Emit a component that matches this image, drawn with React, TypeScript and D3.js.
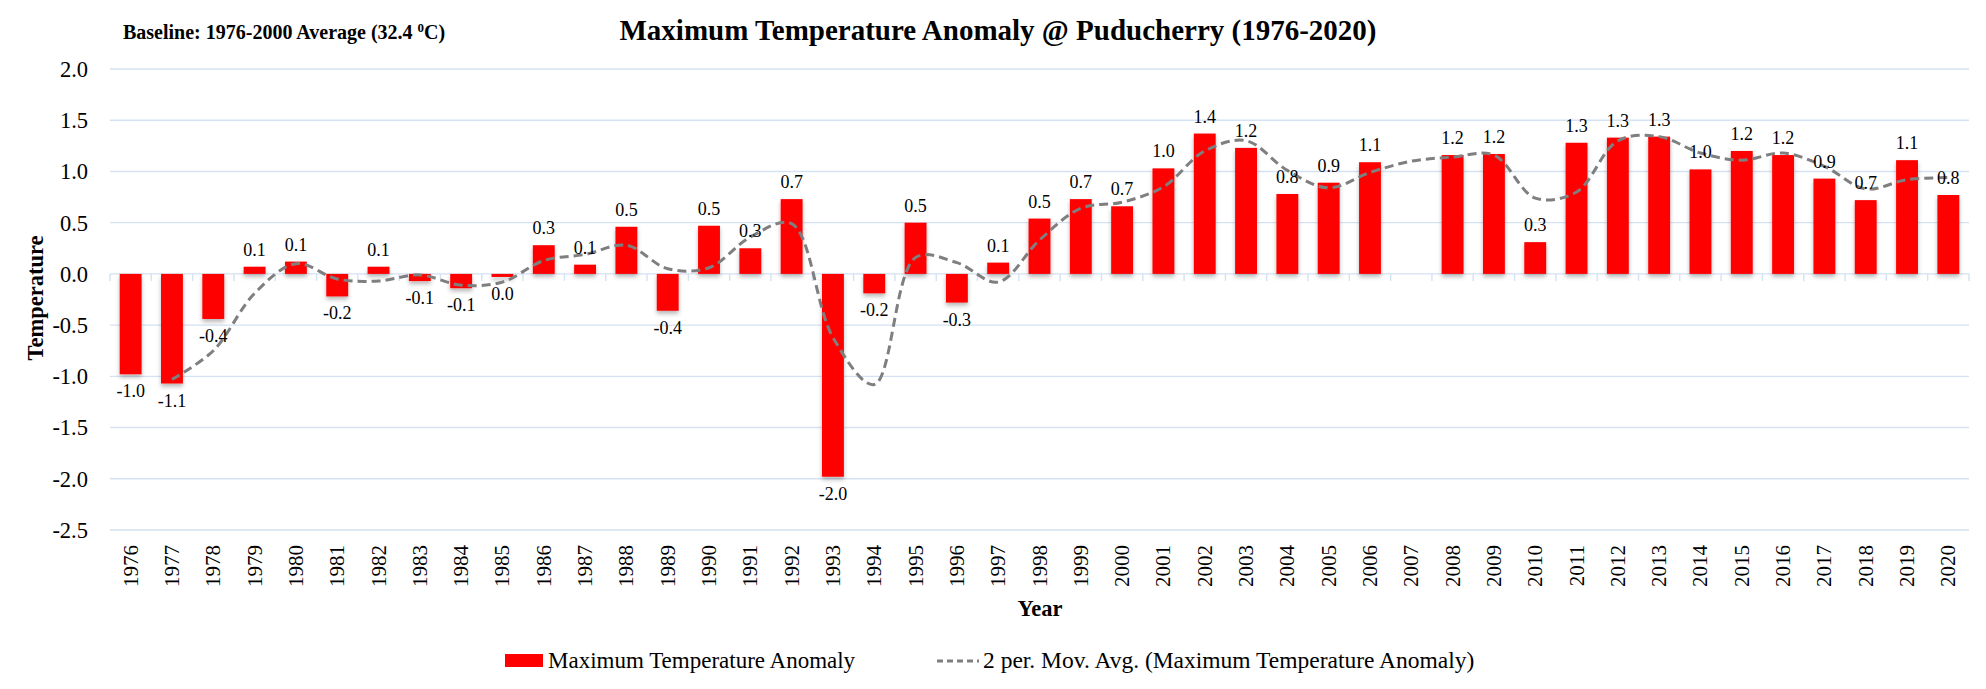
import * as d3 from 'd3'

const years: number[] = d3.range(1976, 2021)

// anomaly per year (2007 has no value)
const anomaly: (number | null)[] = [
  -0.98, -1.07, -0.44, 0.07, 0.12, -0.22, 0.07, -0.07, -0.14, -0.03,
  0.28, 0.09, 0.46, -0.36, 0.47, 0.25, 0.73, -1.98, -0.19, 0.5,
  -0.28, 0.11, 0.54, 0.73, 0.66, 1.03, 1.37, 1.23, 0.78, 0.89,
  1.09, null, 1.16, 1.17, 0.31, 1.28, 1.33, 1.34, 1.02, 1.2,
  1.16, 0.93, 0.72, 1.11, 0.77,
]

// 2 per. moving average (starts 1977)
const movAvg: (number | null)[] = [
  null, -1.03, -0.75, -0.19, 0.1, -0.05, -0.07, -0.01, -0.11, -0.08,
  0.13, 0.19, 0.28, 0.05, 0.06, 0.36, 0.49, -0.62, -1.08, 0.16,
  0.11, -0.08, 0.33, 0.64, 0.7, 0.85, 1.2, 1.3, 1.01, 0.84,
  0.99, 1.1, 1.14, 1.16, 0.74, 0.8, 1.3, 1.34, 1.18, 1.11,
  1.18, 1.05, 0.83, 0.92, 0.94,
]

const yTicks: number[] = [-2.5, -2.0, -1.5, -1.0, -0.5, 0, 0.5, 1.0, 1.5, 2.0]

const W = 1986
const H = 689
const FONT = '"Liberation Serif", "Times New Roman", serif'
const GRID = '#d5e2f3'

const fmt = (v: number) => (Math.abs(v) < 0.05 ? '0.0' : v.toFixed(1))

export default function App() {
  const x = d3.scaleBand<number>().domain(years).range([110, 1969]).padding(0)
  const y = d3.scaleLinear().domain([-2.5, 2.0]).range([530, 69])
  const bw = x.bandwidth() * 0.53
  const cx = (yr: number) => (x(yr) ?? 0) + x.bandwidth() / 2

  const maPts = years
    .map((yr, i) => ({ yr, v: movAvg[i] }))
    .filter(d => d.v !== null) as { yr: number; v: number }[]
  const line = d3.line<{ yr: number; v: number }>()
    .x(d => cx(d.yr))
    .y(d => y(d.v))
    .curve(d3.curveCatmullRom.alpha(0.5))

  return (
    <svg width={W} height={H} style={{ position: 'absolute', left: 0, top: 0, background: '#fff' }}
      fontFamily={FONT}>
      <defs>
        <filter id="shadow" x="-30%" y="-10%" width="160%" height="130%">
          <feDropShadow dx="0" dy="3" stdDeviation="2" floodColor="#000" floodOpacity="0.28" />
        </filter>
      </defs>

      <text x={123} y={39} fontSize={20} fontWeight="bold">
        Baseline: 1976-2000 Average (32.4 <tspan fontSize={13} dy={-7}>0</tspan><tspan dy={7}>C)</tspan>
      </text>
      <text x={998} y={40} fontSize={29} fontWeight="bold" textAnchor="middle">
        Maximum Temperature Anomaly @ Puducherry (1976-2020)
      </text>

      {/* grid */}
      {yTicks.map(t => (
        <g key={t}>
          <line x1={110} x2={1969} y1={y(t)} y2={y(t)} stroke={GRID} strokeWidth={1.4} />
          <text x={88} y={y(t)} dy="0.35em" fontSize={22.5} textAnchor="end">{t.toFixed(1)}</text>
        </g>
      ))}

      {/* category ticks on zero line */}
      {[...years.map(yr => x(yr) ?? 0), 1969].map((tx, i) => (
        <line key={i} x1={tx} x2={tx} y1={y(0)} y2={y(0) + 7} stroke={GRID} strokeWidth={1.4} />
      ))}

      {/* bars */}
      <g filter="url(#shadow)">
        {years.map((yr, i) => {
          const v = anomaly[i]
          if (v === null) return null
          return (
            <rect key={yr} x={cx(yr) - bw / 2} width={bw}
              y={Math.min(y(v), y(0))} height={Math.abs(y(v) - y(0))} fill="#ff0000" />
          )
        })}
      </g>

      {/* moving average */}
      <path d={line(maPts) ?? ''} fill="none" stroke="#7f7f7f" strokeWidth={3}
        strokeDasharray="9,5" />

      {/* data labels */}
      {years.map((yr, i) => {
        const v = anomaly[i]
        if (v === null) return null
        const ly = v >= 0 ? y(v) - 11 : y(v) + 23
        return (
          <text key={yr} x={cx(yr)} y={ly} fontSize={18} textAnchor="middle">{fmt(v)}</text>
        )
      })}

      {/* year labels */}
      {years.map(yr => (
        <text key={yr} transform={`translate(${cx(yr) + 7},545) rotate(-90)`} fontSize={21}
          textAnchor="end">{yr}</text>
      ))}

      <text transform="translate(43,298) rotate(-90)" fontSize={22.5} fontWeight="bold"
        textAnchor="middle">Temperature</text>
      <text x={1040} y={616} fontSize={22.5} fontWeight="bold" textAnchor="middle">Year</text>

      {/* legend */}
      <rect x={505} y={654} width={38} height={13} fill="#ff0000" />
      <text x={548} y={668} fontSize={23}>Maximum Temperature Anomaly</text>
      <line x1={937} x2={979} y1={661} y2={661} stroke="#7f7f7f" strokeWidth={3} strokeDasharray="6,4" />
      <text x={983} y={668} fontSize={23.5}>2 per. Mov. Avg. (Maximum Temperature Anomaly)</text>
    </svg>
  )
}
